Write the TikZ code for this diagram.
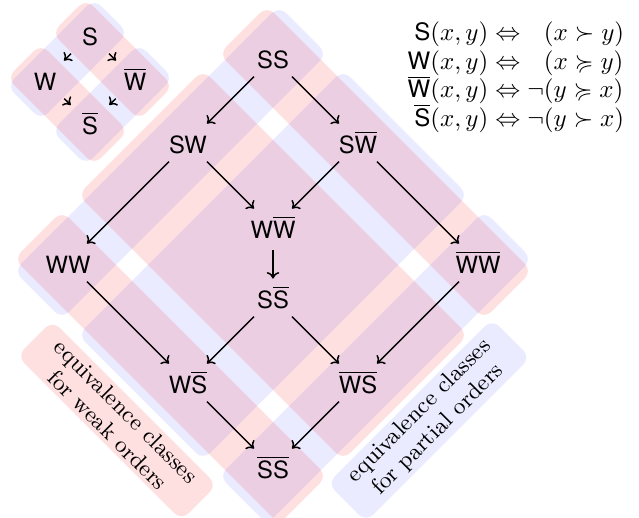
\documentclass[tikz,border=0pt]{standalone}
\usepackage{amssymb}
\usepackage{fontspec}
\setsansfont{TeX Gyre Heros}
\usetikzlibrary{arrows.meta}
\newcommand{\dfont}{\fontsize{9.5}{11.3}\selectfont}
\newcommand{\ovW}{\ensuremath{\overline{\textsf{W}}}}
\newcommand{\ovS}{\ensuremath{\overline{\textsf{S}}}}
\tikzset{
  lat/.style={font=\dfont\sffamily, text height=8.7pt, text depth=0pt,
    inner sep=3.05pt, minimum width=15pt},
  arr/.style={-{To[length=2.6pt,width=5pt]}, line width=0.6pt},
  redband/.style={fill=red, fill opacity=0.12, rounded corners=4pt},
  blueband/.style={fill=blue, fill opacity=0.08, rounded corners=4pt},
  tag/.style={font=\fontsize{9.2}{10.5}\selectfont, align=center,
    rounded corners=4pt, text opacity=1, minimum width=93pt,
    inner ysep=1.5pt},
}
\begin{document}
\begin{tikzpicture}[x=0.4pt, y=-0.4pt]
\useasboundingbox (0,0) rectangle (639,518);

% small lattice: bands in the (u,v) frame rooted at S
\begin{scope}[shift={(90,37)}, x={(-0.4pt,-0.4pt)}, y={(0.4pt,-0.4pt)}]
  \fill[redband] (-17,-21) -- (17,-21) -- (17,66) -- (-17,66) -- cycle;
  \fill[redband] (28,-21) -- (62,-21) -- (62,66) -- (28,66) -- cycle;
  \fill[blueband] (-21,-17) -- (66,-17) -- (66,17) -- (-21,17) -- cycle;
  \fill[blueband] (-21,28) -- (66,28) -- (66,62) -- (-21,62) -- cycle;
\end{scope}

% main lattice: bands in the (u,v) frame rooted at SS
\begin{scope}[shift={(273,60)}, x={(-0.4pt,-0.4pt)}, y={(0.4pt,-0.4pt)}]
  \fill[redband] (-24,-30) -- (24,-30) -- (24,235) -- (-24,235) -- cycle;
  \fill[redband] (40,-30) -- (165,-30) -- (165,235) -- (40,235) -- cycle;
  \fill[redband] (181,-30) -- (229,-30) -- (229,235) -- (181,235) -- cycle;
  \fill[blueband] (-30,-24) -- (235,-24) -- (235,24) -- (-30,24) -- cycle;
  \fill[blueband] (-30,40) -- (235,40) -- (235,165) -- (-30,165) -- cycle;
  \fill[blueband] (-30,181) -- (235,181) -- (235,229) -- (-30,229) -- cycle;
\end{scope}

% class labels
\node[tag, fill=red, fill opacity=0.12, rotate=-45] (weak) at (117,420.5)
  {equivalence classes\\for weak orders};
\node[tag, fill=blue, fill opacity=0.08, rotate=45] (partial) at (429,420.5)
  {equivalence classes\\for partial orders};

% small lattice
\node[lat] (s)  at (90,34.6)  {S};
\node[lat] (w)  at (45,79.6)  {W};
\node[lat] (wb) at (135,79.6) {\ovW};
\node[lat] (sb) at (90,124)   {\ovS};
\draw[arr] (s) -- (w);
\draw[arr] (s) -- (wb);
\draw[arr] (w) -- (sb);
\draw[arr] (wb) -- (sb);

% main lattice
\node[lat] (ss)   at (273,57.6)  {SS};
\node[lat] (sw)   at (188,142.6) {SW};
\node[lat] (swb)  at (358,142.6) {S\ovW};
\node[lat] (ww)   at (68,262.6)  {WW};
\node[lat] (wwb)  at (273,227.6) {W\ovW};
\node[lat] (wbwb) at (478,262.6) {\ovW\ovW};
\node[lat] (ssb)  at (273,297.6) {S\ovS};
\node[lat] (wsb)  at (188,382.6) {W\ovS};
\node[lat] (wbsb) at (358,382.6) {\ovW\ovS};
\node[lat] (sbsb) at (273,467.6) {\ovS\ovS};

\draw[arr] (ss) -- (sw);
\draw[arr] (ss) -- (swb);
\draw[arr] (sw) -- (ww);
\draw[arr] (sw) -- (wwb);
\draw[arr] (swb) -- (wwb);
\draw[arr] (swb) -- (wbwb);
\draw[arr, shorten <=1.5pt] (wwb) -- (ssb);
\draw[arr] (ww) -- (wsb);
\draw[arr] (ssb) -- (wsb);
\draw[arr] (ssb) -- (wbsb);
\draw[arr] (wbwb) -- (wbsb);
\draw[arr] (wsb) -- (sbsb);
\draw[arr] (wbsb) -- (sbsb);

% definitions
\node[anchor=east, font=\fontsize{9.6}{11.4}\selectfont] (defs) at (633,78) {$\begin{array}{@{}r@{}r@{}l@{}}
  \textsf{S}(x,y)\Leftrightarrow{} & & (x\succ y)\\
  \textsf{W}(x,y)\Leftrightarrow{} & & (x\succcurlyeq y)\\
  \smash{\overline{\textsf{W}}}(x,y)\Leftrightarrow{} & \neg & (y\succcurlyeq x)\\
  \smash{\overline{\textsf{S}}}(x,y)\Leftrightarrow{} & \neg & (y\succ x)
\end{array}$};
\end{tikzpicture}
\end{document}
